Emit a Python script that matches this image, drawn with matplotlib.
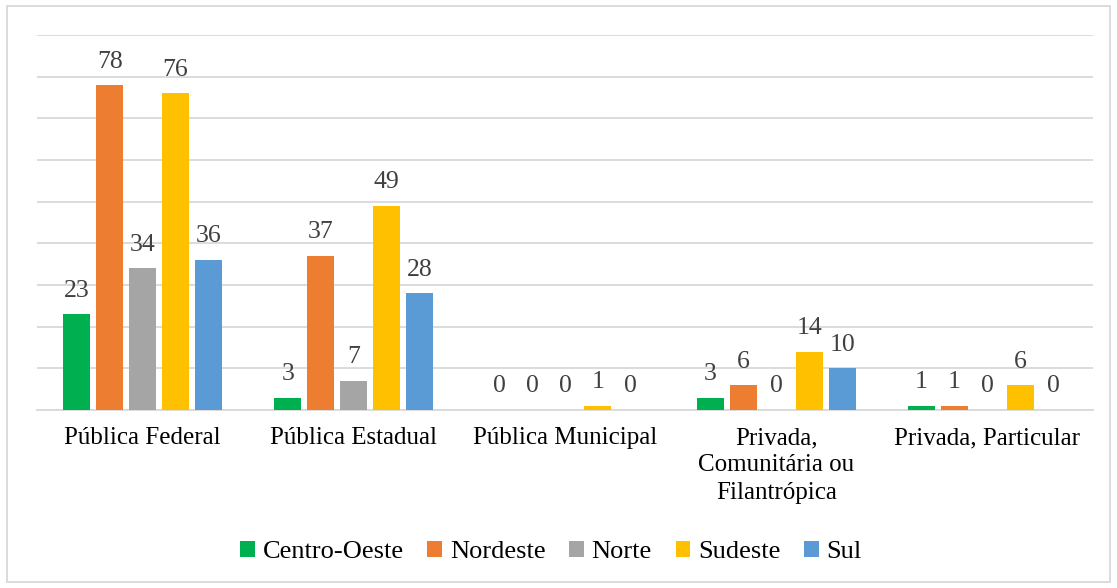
import matplotlib
matplotlib.use("Agg")
import matplotlib.pyplot as plt
import numpy as np
from matplotlib.patches import Rectangle

categories = ["Pública Federal", "Pública Estadual", "Pública Municipal",
              "Privada,\nComunitária ou\nFilantrópica", "Privada, Particular"]
series_names = ["Centro-Oeste", "Nordeste", "Norte", "Sudeste", "Sul"]
centro_oeste = [23, 3, 0, 3, 1]
nordeste = [78, 37, 0, 6, 1]
norte = [34, 7, 0, 0, 0]
sudeste = [76, 49, 1, 14, 6]
sul = [36, 28, 0, 10, 0]
colors = ["#00B050", "#ED7D31", "#A5A5A5", "#FFC000", "#5B9BD5"]

values = [centro_oeste, nordeste, norte, sudeste, sul]

plt.rcParams['font.family'] = ['Liberation Serif', 'TeX Gyre Termes', 'DejaVu Serif']

fig = plt.figure(figsize=(11.17, 5.88), dpi=100)
ax = fig.add_axes([37/1117, 1-410/588, (1093-37)/1117, (410-35)/588])

x = np.arange(len(categories))
pitch = 0.156
width = 0.128
for i, (name, vals, c) in enumerate(zip(series_names, values, colors)):
    pos = x + (i - 2) * pitch
    ax.bar(pos, vals, width, color=c, label=name, zorder=3)
    for xp, v in zip(pos, vals):
        ax.annotate(str(v), (xp, v), xytext=(0, 9), textcoords='offset points',
                    ha='center', va='bottom', fontsize=18.5, color='#404040')

ax.set_xlim(-0.5, len(categories) - 0.5)
ax.set_ylim(0, 90)
ax.set_yticks(np.arange(0, 91, 10))
ax.yaxis.grid(True, color='#D9D9D9', linewidth=1.3, zorder=0)
ax.tick_params(axis='y', left=False, labelleft=False)
ax.tick_params(axis='x', bottom=False, pad=9)
ax.set_xticks(x)
ax.set_xticklabels(categories, fontsize=18, color='black', linespacing=1.3, va='top')
for s in ['top', 'right', 'left']:
    ax.spines[s].set_visible(False)
ax.spines['bottom'].set_color('#D9D9D9')
ax.spines['bottom'].set_linewidth(1.3)

fig.legend(loc='center', bbox_to_anchor=(551/1117, 1-552/588), ncol=5, frameon=False,
           fontsize=19, handlelength=0.55, handleheight=0.55, handletextpad=0.3,
           columnspacing=0.9)

fig.add_artist(Rectangle((7/1117, 6/588), (1110-7)/1117, (582-6)/588,
                         transform=fig.transFigure, fill=False,
                         edgecolor='#D9D9D9', linewidth=1.3))

fig.savefig("out.png", dpi=100)
